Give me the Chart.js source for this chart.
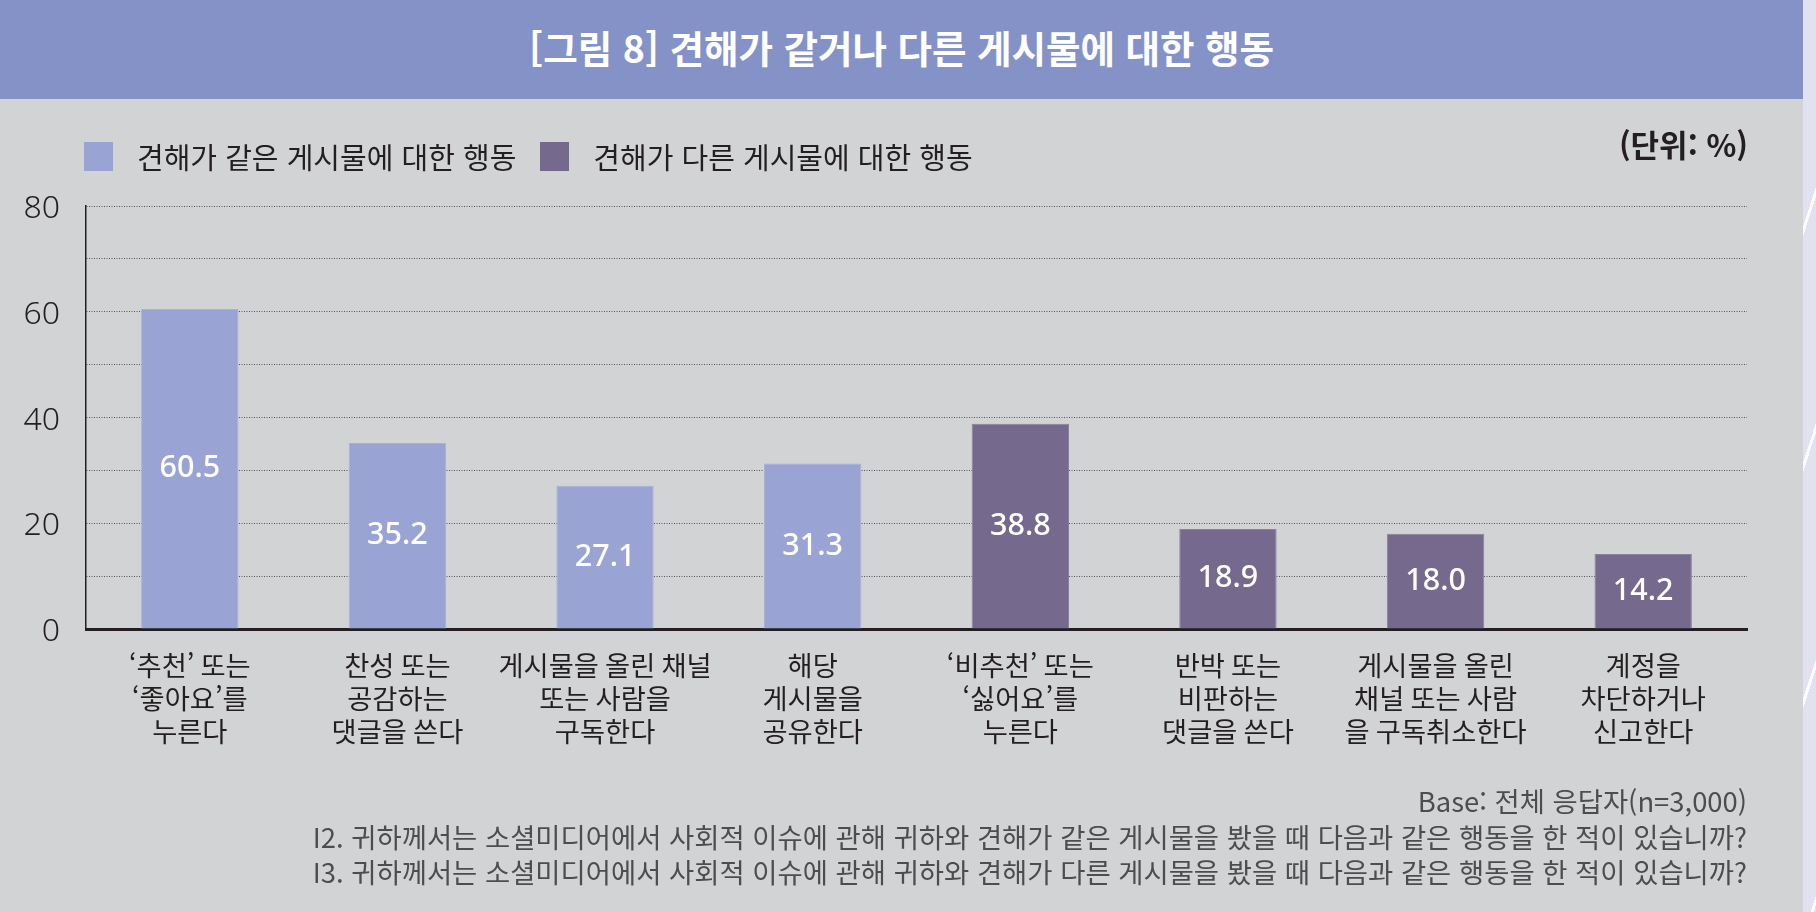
<!DOCTYPE html>
<html lang="ko">
<head>
<meta charset="utf-8">
<title>[그림 8] 견해가 같거나 다른 게시물에 대한 행동</title>
<script src="https://cdn.jsdelivr.net/npm/chart.js@4.4.1/dist/chart.umd.min.js"></script>
<style>
    html, body { margin: 0; padding: 0; }
    body {
        width: 1816px; height: 912px; position: relative; overflow: hidden;
        background: #d2d3d5; color: #231f20;
        font-family: "Noto Sans CJK KR", "Noto Sans", sans-serif;
    }
    .header {
        position: absolute; left: 0; top: 0; width: 1803px; height: 99px;
        background: #8592c8; color: #fff; font-weight: 700; font-size: 37.5px;
        line-height: 93px; text-align: center;
    }
    .edge {
        position: absolute; left: 1803px; top: 0; width: 13px; height: 912px;
        background: repeating-linear-gradient(108deg, #e0e2ef 0 70px, #fbfbfe 70px 73px);
    }
    .wrap { position: absolute; left: 0; top: 0; width: 1816px; height: 912px; }
    #legend {
        position: absolute; left: 84px; top: 141px; height: 30px;
        display: flex; align-items: center; font-size: 29px;
    }
    .item { display: flex; align-items: center; margin-right: 24px; }
    .box { width: 29px; height: 29px; margin-right: 24px; }
    .unit {
        position: absolute; right: 68px; top: 122px;
        font-size: 31px; font-weight: 700; line-height: 44px;
    }
    .notes {
        position: absolute; right: 69px; top: 783px; text-align: right;
        font-size: 27.4px; line-height: 35.5px; color: #4d4d4f; white-space: nowrap;
    }
</style>
</head>
<body>
<div class="wrap"><canvas id="myChart"></canvas></div>
<div class="header">[그림 8] 견해가 같거나 다른 게시물에 대한 행동</div>
<div class="edge"></div>
<div id="legend"></div>
<div class="unit">(단위: %)</div>
<div class="notes">
    <div>Base: 전체 응답자(n=3,000)</div>
    <div>I2. 귀하께서는 소셜미디어에서 사회적 이슈에 관해 귀하와 견해가 같은 게시물을 봤을 때 다음과 같은 행동을 한 적이 있습니까?</div>
    <div>I3. 귀하께서는 소셜미디어에서 사회적 이슈에 관해 귀하와 견해가 다른 게시물을 봤을 때 다음과 같은 행동을 한 적이 있습니까?</div>
</div>
<script>
// Categories (one array of lines per bar)
const categories = [
    ['‘추천’ 또는', '‘좋아요’를', '누른다'],
    ['찬성 또는', '공감하는', '댓글을 쓴다'],
    ['게시물을 올린 채널', '또는 사람을', '구독한다'],
    ['해당', '게시물을', '공유한다'],
    ['‘비추천’ 또는', '‘싫어요’를', '누른다'],
    ['반박 또는', '비판하는', '댓글을 쓴다'],
    ['게시물을 올린', '채널 또는 사람', '을 구독취소한다'],
    ['계정을', '차단하거나', '신고한다']
];

// Series values (%)
const sameViewValues = [60.5, 35.2, 27.1, 31.3, null, null, null, null];
const diffViewValues = [null, null, null, null, 38.8, 18.9, 18.0, 14.2];

const seriesNames = ['견해가 같은 게시물에 대한 행동', '견해가 다른 게시물에 대한 행동'];

// Y axis
const yMin = 0;
const yMax = 80;
const yStep = 10;
const yLabelStep = 20;

// Value labels in the middle of each bar
const valueLabels = {
    id: 'valueLabels',
    afterDatasetsDraw(chart) {
        const ctx = chart.ctx;
        ctx.save();
        ctx.fillStyle = '#ffffff';
        ctx.font = '500 30.5px "Noto Sans", "Noto Sans CJK KR", sans-serif';
        ctx.textAlign = 'center';
        ctx.textBaseline = 'middle';
        chart.data.datasets.forEach((ds, i) => {
            chart.getDatasetMeta(i).data.forEach((bar, j) => {
                const v = ds.data[j];
                if (v == null) return;
                ctx.fillText(v.toFixed(1), bar.x, (bar.y + bar.base) / 2);
            });
        });
        ctx.restore();
    }
};

const config = {
    type: 'bar',
    data: {
        labels: categories,
        datasets: [{
            label: seriesNames[0],
            data: sameViewValues,
            backgroundColor: '#9aa4d4',
            borderColor: '#a9b0d9',
            borderWidth: 1
        }, {
            label: seriesNames[1],
            data: diffViewValues,
            backgroundColor: '#756a8d',
            borderColor: '#8a809f',
            borderWidth: 1
        }]
    },
    options: {
        responsive: true,
        maintainAspectRatio: false,
        animation: false,
        grouped: false,
        barPercentage: 0.469,
        categoryPercentage: 1,
        layout: {
            padding: { top: 206, right: 69, bottom: 143, left: 0 }
        },
        plugins: {
            legend: { display: false },
            tooltip: { enabled: false }
        },
        scales: {
            x: {
                grid: { display: false, drawTicks: false },
                border: { display: true, color: '#231f20', width: 3 },
                ticks: {
                    padding: 20,
                    autoSkip: false,
                    maxRotation: 0,
                    minRotation: 0,
                    color: '#231f20',
                    font: { family: '"Noto Sans CJK KR", sans-serif', size: 27.3, lineHeight: 1.21 }
                },
                afterFit(scale) { scale.height = 140; }
            },
            y: {
                min: yMin,
                max: yMax,
                grid: { color: '#555555', lineWidth: 1, drawTicks: false },
                border: { display: true, color: '#231f20', width: 1.5, dash: [1, 1.5] },
                ticks: {
                    stepSize: yStep,
                    padding: 26,
                    labelOffset: 3,
                    color: '#231f20',
                    font: { family: '"Noto Sans", sans-serif', size: 32, weight: 300 },
                    callback: v => (v % yLabelStep === 0 ? v : '')
                },
                afterFit(scale) { scale.width = 86; }
            }
        }
    },
    plugins: [valueLabels]
};

var myChart = new Chart(document.getElementById('myChart'), config);

// Legend built from the chart datasets
const legendEl = document.getElementById('legend');
myChart.data.datasets.forEach(ds => {
    const item = document.createElement('div');
    item.className = 'item';
    const box = document.createElement('span');
    box.className = 'box';
    box.style.background = ds.backgroundColor;
    const text = document.createElement('span');
    text.textContent = ds.label;
    item.appendChild(box);
    item.appendChild(text);
    legendEl.appendChild(item);
});
</script>
</body>
</html>
